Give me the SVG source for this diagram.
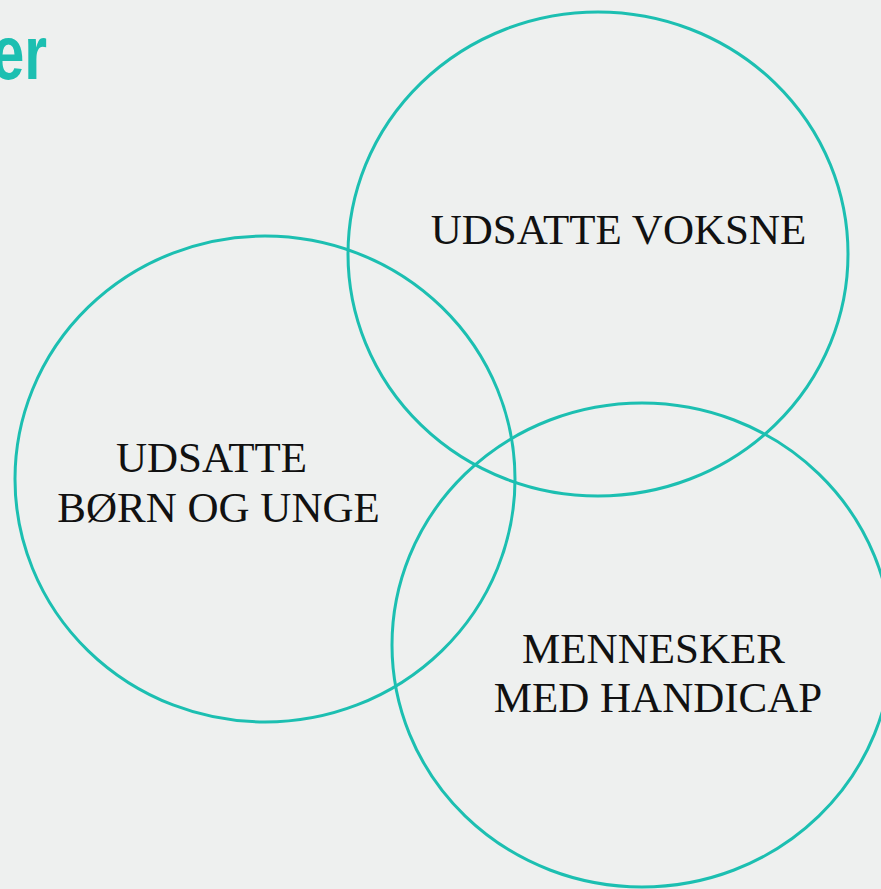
<svg xmlns="http://www.w3.org/2000/svg" width="881" height="889" viewBox="0 0 881 889">
<style>
.ring{fill:none;stroke:#1cbfb1;stroke-width:3}
.lbl{font-family:"Liberation Serif","Times New Roman",serif;font-size:43px;fill:#111;text-anchor:middle}
.head{font-family:"Liberation Sans",Arial,sans-serif;font-weight:bold;font-size:76px;fill:#1cbfb1;text-anchor:end}
</style>
<rect width="881" height="889" fill="#eef0ef"/>
<text class="head" transform="translate(47,79) scale(0.77,1)">er</text>
<g id="voksne">
<ellipse class="ring" cx="598" cy="254" rx="250" ry="242"/>
<text class="lbl" x="618.5" y="244">UDSATTE VOKSNE</text>
</g>
<g id="born">
<ellipse class="ring" cx="265" cy="479" rx="250" ry="243"/>
<text class="lbl" x="211.5" y="472">UDSATTE</text>
<text class="lbl" x="218.5" y="522">BØRN OG UNGE</text>
</g>
<g id="handicap">
<ellipse class="ring" cx="642" cy="645" rx="250" ry="242"/>
<text class="lbl" x="653.5" y="663">MENNESKER</text>
<text class="lbl" x="658" y="712">MED HANDICAP</text>
</g>
<g id="connectors"/>
</svg>
